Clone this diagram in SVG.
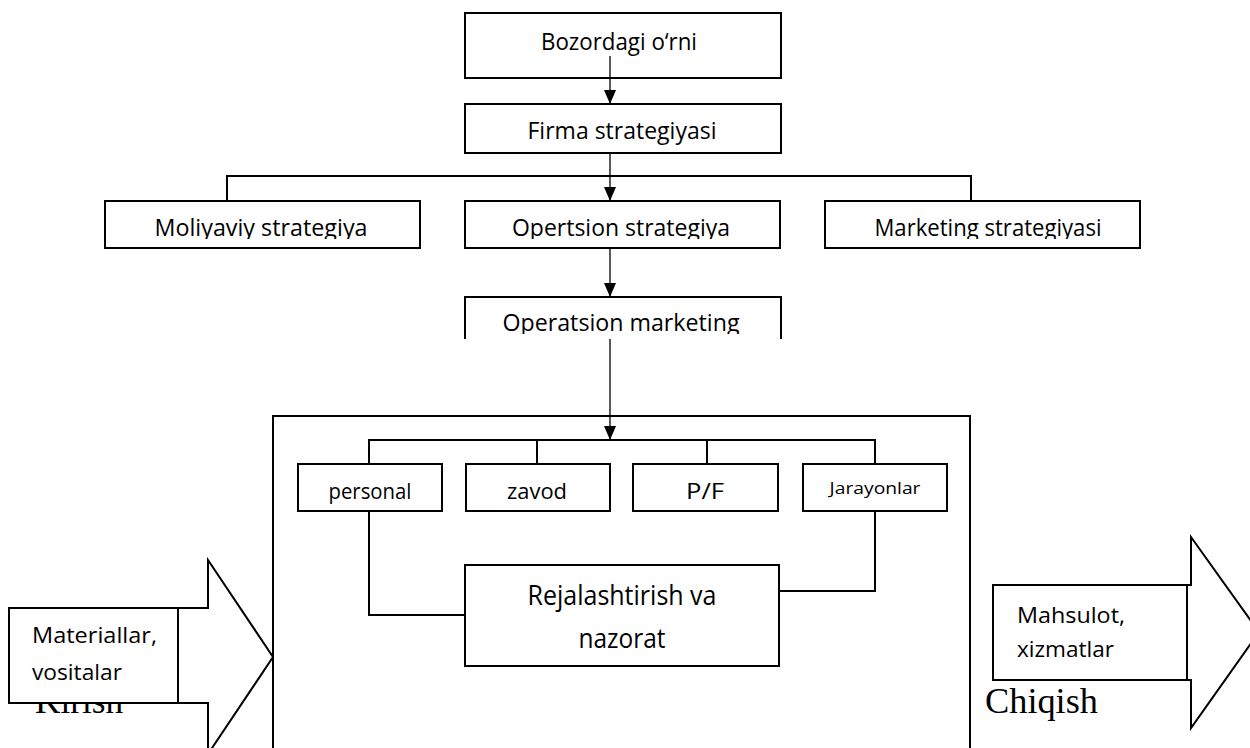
<svg xmlns="http://www.w3.org/2000/svg" width="1250" height="748" viewBox="0 0 1250 748">
  <style>
    .box{fill:#fff;stroke:#000;stroke-width:2}
    .ln{fill:none;stroke:#000;stroke-width:2}
    .ar{fill:none;stroke:#000;stroke-width:1.3}
    .t{font-family:"Open Sans","Noto Sans",sans-serif;fill:#000;text-anchor:middle}
    .s{text-anchor:start}
    .f22{font-size:23.5px}
    .f20{font-size:21.5px}
    .f16{font-size:17px}
    .f25{font-size:27px}
    .f21{font-size:22.5px}
    .serif{font-family:"Liberation Serif","Times New Roman",serif;font-size:36px;fill:#000}
  </style>
  <defs>
    <marker id="ah" viewBox="0 0 14 12" refX="14" refY="6" markerWidth="14" markerHeight="12" markerUnits="userSpaceOnUse" orient="auto">
      <path d="M0,0 L14,6 L0,12 z" fill="#000"/>
    </marker>
    <clipPath id="row2"><rect x="0" y="0" width="1250" height="239"/></clipPath>
    <clipPath id="row3"><rect x="0" y="0" width="1250" height="334"/></clipPath>
  </defs>

  <!-- strategy levels -->
  <g id="bozor">
    <rect class="box" x="465" y="13" width="316" height="65"/>
    <text class="t f22" x="619" y="50" textLength="156" lengthAdjust="spacingAndGlyphs">Bozordagi o‘rni</text>
  </g>
  <g id="firma">
    <rect class="box" x="465" y="104" width="316" height="49"/>
    <text class="t f22" x="622" y="139" textLength="189" lengthAdjust="spacingAndGlyphs">Firma strategiyasi</text>
  </g>
  <g id="moliya">
    <rect class="box" x="105" y="201" width="315" height="47"/>
    <text class="t f22" x="261" y="236" textLength="213" lengthAdjust="spacingAndGlyphs" clip-path="url(#row2)">Moliyaviy strategiya</text>
  </g>
  <g id="opers">
    <rect class="box" x="465" y="201" width="315" height="47"/>
    <text class="t f22" x="621" y="236" textLength="218" lengthAdjust="spacingAndGlyphs" clip-path="url(#row2)">Opertsion strategiya</text>
  </g>
  <g id="market">
    <rect class="box" x="825" y="201" width="315" height="47"/>
    <text class="t f22" x="988" y="236" textLength="227" lengthAdjust="spacingAndGlyphs" clip-path="url(#row2)">Marketing strategiyasi</text>
  </g>
  <g id="opmarket">
    <path class="ln" d="M465,339 V297 H781 V339"/>
    <text class="t f22" x="621" y="331" textLength="237" lengthAdjust="spacingAndGlyphs" clip-path="url(#row3)">Operatsion marketing</text>
  </g>

  <!-- operations frame -->
  <g id="frame">
    <rect class="box" x="273" y="416" width="697" height="345"/>
  </g>
  <g id="personal">
    <rect class="box" x="298" y="464" width="144" height="47"/>
    <text class="t f20" x="370" y="499" textLength="83" lengthAdjust="spacingAndGlyphs">personal</text>
  </g>
  <g id="zavod">
    <rect class="box" x="466" y="464" width="144" height="47"/>
    <text class="t f20" x="537" y="499" textLength="60" lengthAdjust="spacingAndGlyphs">zavod</text>
  </g>
  <g id="pf">
    <rect class="box" x="633" y="464" width="145" height="47"/>
    <text class="t f20" x="705" y="499" textLength="38" lengthAdjust="spacingAndGlyphs">P/F</text>
  </g>
  <g id="jarayon">
    <rect class="box" x="803" y="464" width="144" height="47"/>
    <text class="t f16" x="875" y="494" textLength="91" lengthAdjust="spacingAndGlyphs">Jarayonlar</text>
  </g>
  <g id="reja">
    <rect class="box" x="465" y="565" width="314" height="101"/>
    <text class="t f25" x="622" y="605" textLength="189" lengthAdjust="spacingAndGlyphs">Rejalashtirish va</text>
    <text class="t f25" x="622" y="648" textLength="87" lengthAdjust="spacingAndGlyphs">nazorat</text>
  </g>

  <!-- input block arrow -->
  <g id="kirish">
    <polygon class="box" points="9,608 208,608 208,560 273,657 208,754 208,703 9,703"/>
    <text class="serif" x="35" y="713" textLength="88" lengthAdjust="spacingAndGlyphs">Kirish</text>
    <rect class="box" x="9" y="608" width="169" height="95"/>
    <text class="t s f21" x="32" y="643" textLength="125" lengthAdjust="spacingAndGlyphs">Materiallar,</text>
    <text class="t s f21" x="32" y="680" textLength="90" lengthAdjust="spacingAndGlyphs">vositalar</text>
  </g>

  <!-- output block arrow -->
  <g id="chiqish">
    <polygon class="box" points="993,585 1191,585 1191,537 1259,632 1191,728 1191,680 993,680"/>
    <rect class="box" x="993" y="585" width="194" height="95"/>
    <text class="t s f21" x="1017" y="623" textLength="108" lengthAdjust="spacingAndGlyphs">Mahsulot,</text>
    <text class="t s f21" x="1017" y="657" textLength="97" lengthAdjust="spacingAndGlyphs">xizmatlar</text>
    <text class="serif" x="985" y="713" textLength="113" lengthAdjust="spacingAndGlyphs">Chiqish</text>
  </g>

  <!-- connectors -->
  <g id="connectors">
    <line class="ar" x1="610" y1="56" x2="610" y2="104" marker-end="url(#ah)"/>
    <line class="ar" x1="610" y1="153" x2="610" y2="201" marker-end="url(#ah)"/>
    <polyline class="ln" points="227,201 227,176 971,176 971,201"/>
    <line class="ar" x1="610" y1="248" x2="610" y2="297" marker-end="url(#ah)"/>
    <line class="ar" x1="610" y1="339" x2="610" y2="440" marker-end="url(#ah)"/>
    <polyline class="ln" points="369,464 369,440 875,440 875,464"/>
    <line class="ln" x1="537" y1="440" x2="537" y2="464"/>
    <line class="ln" x1="707" y1="440" x2="707" y2="464"/>
    <polyline class="ln" points="369,511 369,615 465,615"/>
    <polyline class="ln" points="875,511 875,591 779,591"/>
  </g>
</svg>
